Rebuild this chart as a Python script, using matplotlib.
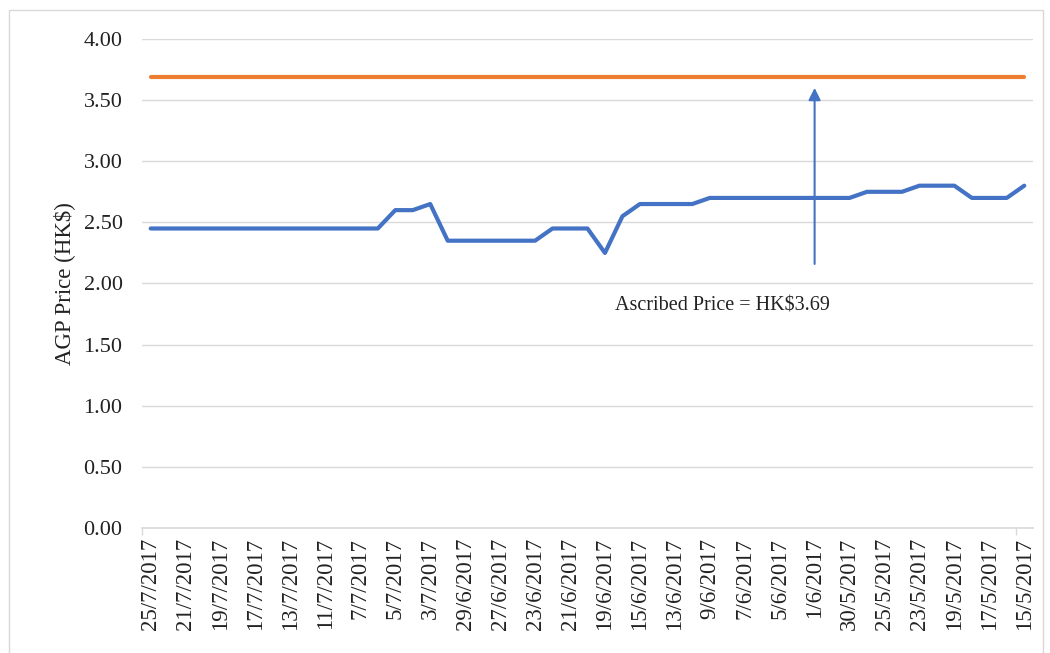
import numpy as np
import matplotlib
matplotlib.use("Agg")
import matplotlib.pyplot as plt

# trading dates, newest first (as shown on the axis)
dates = ["25/7/2017", "24/7/2017", "21/7/2017", "20/7/2017", "19/7/2017", "18/7/2017",
         "17/7/2017", "14/7/2017", "13/7/2017", "12/7/2017", "11/7/2017", "10/7/2017",
         "7/7/2017", "6/7/2017", "5/7/2017", "4/7/2017", "3/7/2017", "30/6/2017",
         "29/6/2017", "28/6/2017", "27/6/2017", "26/6/2017", "23/6/2017", "22/6/2017",
         "21/6/2017", "20/6/2017", "19/6/2017", "16/6/2017", "15/6/2017", "14/6/2017",
         "13/6/2017", "12/6/2017", "9/6/2017", "8/6/2017", "7/6/2017", "6/6/2017",
         "5/6/2017", "2/6/2017", "1/6/2017", "31/5/2017", "30/5/2017", "26/5/2017",
         "25/5/2017", "24/5/2017", "23/5/2017", "22/5/2017", "19/5/2017", "18/5/2017",
         "17/5/2017", "16/5/2017", "15/5/2017"]

agp_price = [2.45, 2.45, 2.45, 2.45, 2.45, 2.45, 2.45, 2.45, 2.45, 2.45, 2.45, 2.45,
             2.45, 2.45, 2.60, 2.60, 2.65, 2.35, 2.35, 2.35, 2.35, 2.35, 2.35, 2.45,
             2.45, 2.45, 2.25, 2.55, 2.65, 2.65, 2.65, 2.65, 2.70, 2.70, 2.70, 2.70,
             2.70, 2.70, 2.70, 2.70, 2.70, 2.75, 2.75, 2.75, 2.80, 2.80, 2.80, 2.70,
             2.70, 2.70, 2.80]

ascribed_price = 3.69
arrow_date = "1/6/2017"
label_text = "Ascribed Price = HK$3.69"

plt.rcParams['font.family'] = ['Liberation Serif', 'DejaVu Serif']

fig = plt.figure(figsize=(10.5, 6.53), dpi=100)
ax = fig.add_axes([0.1352, 0.1914, 0.8486, 0.7489])

x = np.arange(len(dates))
ax.plot(x, agp_price, color='#4472C4', linewidth=3, solid_capstyle='round',
        solid_joinstyle='round', zorder=3)
ax.plot(x, [ascribed_price] * len(dates), color='#ED7D31', linewidth=3,
        solid_capstyle='round', zorder=3)

# arrow pointing to the ascribed price
xa = dates.index(arrow_date)
ax.annotate("", xy=(xa, ascribed_price - 0.09), xytext=(xa, 2.16),
            arrowprops=dict(arrowstyle='-|>', color='#4472C4', lw=1.5,
                            mutation_scale=18, shrinkA=0, shrinkB=0), zorder=4)
ax.text(xa - 5.3, 1.815, label_text, fontsize=14.5, ha='center', va='center',
        color='#222222')

ax.set_xlim(-0.5, len(dates) - 0.5)
ax.set_ylim(0, 4)
ax.set_yticks(np.arange(0, 4.01, 0.5))
ax.set_yticklabels([f"{v:.2f}" for v in np.arange(0, 4.01, 0.5)], fontsize=16,
                   color='#222222')
ax.yaxis.grid(True, color='#D9D9D9', linewidth=1)
ax.set_axisbelow(True)

ax.set_xticks(x[::2])
ax.set_xticklabels(dates[::2], rotation=90, fontsize=16.5, color='#222222')
ax.set_xticks([-0.5, len(dates) - 1.5], minor=True)
ax.tick_params(axis='x', which='major', length=0, pad=7)
ax.tick_params(axis='x', which='minor', length=5, color='#D9D9D9', width=1)
ax.tick_params(axis='y', length=0, pad=14)

for s in ['top', 'right', 'left']:
    ax.spines[s].set_visible(False)
ax.spines['bottom'].set_color('#D9D9D9')
ax.spines['bottom'].set_linewidth(1.2)

ax.set_ylabel("AGP Price (HK$)", fontsize=16.5, labelpad=6, color='#222222')

# outer chart border
fig.patches.append(plt.Rectangle((9 / 1050, -0.01), 1034 / 1050, 1 - 10 / 653 + 0.01,
                                 transform=fig.transFigure, fill=False,
                                 edgecolor='#D9D9D9', linewidth=1))

fig.savefig("out.png", dpi=100)
